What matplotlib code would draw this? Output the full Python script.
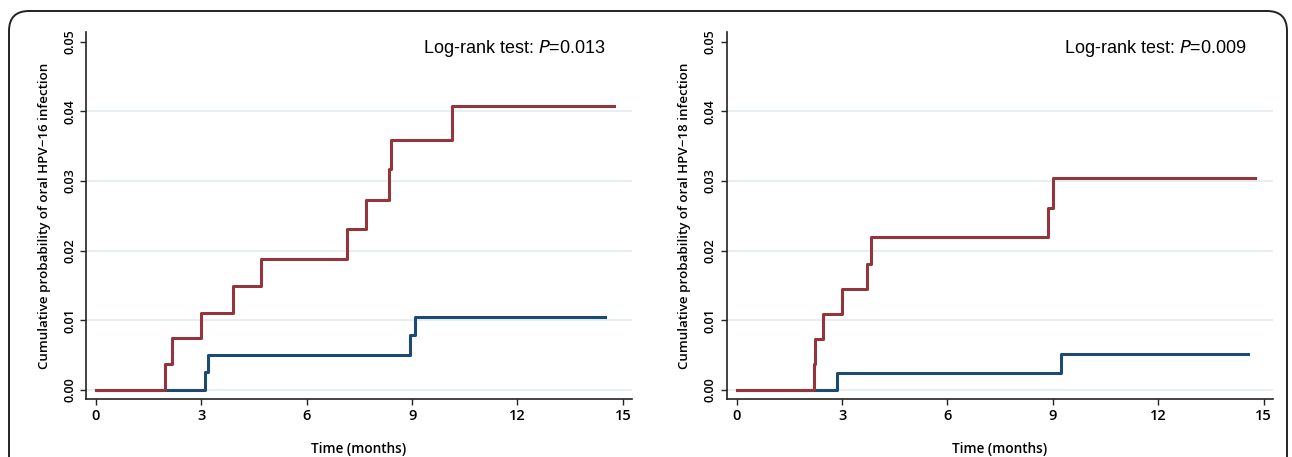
import matplotlib
matplotlib.use("Agg")
import matplotlib.pyplot as plt
from matplotlib.patches import FancyBboxPatch

# HPV-16 (left panel)
red16_t = [0, 1.95, 2.17, 3.0, 3.89, 4.71, 7.15, 7.7, 8.35, 8.4, 10.13, 14.75]
red16_p = [0, 0.0037, 0.0075, 0.0111, 0.0149, 0.0188, 0.0231, 0.0273, 0.0317, 0.0359, 0.0408, 0.0408]
blue16_t = [0, 3.1, 3.2, 8.95, 9.07, 14.5]
blue16_p = [0, 0.0026, 0.0051, 0.0079, 0.0105, 0.0105]

# HPV-18 (right panel)
red18_t = [0, 2.19, 2.22, 2.46, 3.01, 3.70, 3.81, 8.87, 9.0, 14.75]
red18_p = [0, 0.0037, 0.0073, 0.0109, 0.0145, 0.0181, 0.0219, 0.0261, 0.0304, 0.0304]
blue18_t = [0, 2.85, 9.23, 14.57]
blue18_p = [0, 0.0025, 0.0052, 0.0052]

x_ticks = [0, 3, 6, 9, 12, 15]
y_ticks = [0.00, 0.01, 0.02, 0.03, 0.04, 0.05]
ylabels = ["Cumulative probability of oral HPV\u221216 infection",
           "Cumulative probability of oral HPV\u221218 infection"]
pvals = ["0.013", "0.009"]

RED = "#93353d"
BLUE = "#1c4a72"
GRID = "#e6eff2"

label_font = "Open Sans"

fig = plt.figure(figsize=(12.92, 4.57), dpi=100)

# rounded frame, open at the bottom edge of the picture
border = FancyBboxPatch((9, 11), 1278, 500,
                        boxstyle="round,pad=0,rounding_size=20",
                        transform=None, fill=False,
                        edgecolor="#222222", linewidth=1.4)
# transform=None means display pixels with origin bottom-left; flip y
border.set_y(457 - 11 - 500)
fig.patches.append(border)

panels = [
    (86, red16_t, red16_p, blue16_t, blue16_p),
    (726.7, red18_t, red18_p, blue18_t, blue18_p),
]

for i, (left_px, rt, rp, bt, bp) in enumerate(panels):
    ax = fig.add_axes([left_px / 1292, 57.7 / 457, 546 / 1292, 367 / 457])
    for y in y_ticks[:-1]:
        ax.axhline(y, color=GRID, linewidth=1.4, zorder=0)
    ax.step(bt, bp, where="post", color=BLUE, linewidth=2.2, zorder=2)
    ax.step(rt, rp, where="post", color=RED, linewidth=2.2, zorder=3)

    ax.set_xlim(-0.285, 15.26)
    ax.set_ylim(-0.00133, 0.05135)
    ax.set_xticks(x_ticks)
    ax.set_yticks(y_ticks)
    ax.set_xticklabels([str(t) for t in x_ticks], fontsize=10.5,
                       fontfamily=label_font, fontweight="semibold")
    ax.set_yticklabels([f"{t:.2f}" for t in y_ticks], fontsize=9,
                       fontfamily=label_font, fontweight="semibold",
                       rotation=90, va="center")
    ax.tick_params(axis="both", length=4, width=1, color="#222222", pad=3)
    for s in ("top", "right"):
        ax.spines[s].set_visible(False)
    for s in ("left", "bottom"):
        ax.spines[s].set_linewidth(1.2)
        ax.spines[s].set_color("#222222")

    ax.set_ylabel(ylabels[i], fontsize=9.6, fontfamily=label_font,
                  fontweight="semibold", labelpad=9)
    ax.set_xlabel("Time (months)", fontsize=9.8, fontfamily=label_font,
                  fontweight="semibold", labelpad=14)
    ax.text(0.785, 0.955, f"Log-rank test: $\\mathit{{P}}$=" + pvals[i],
            transform=ax.transAxes, ha="center", va="center",
            fontsize=13, fontfamily="Liberation Sans")

fig.savefig("out.png", dpi=100, facecolor="white")
